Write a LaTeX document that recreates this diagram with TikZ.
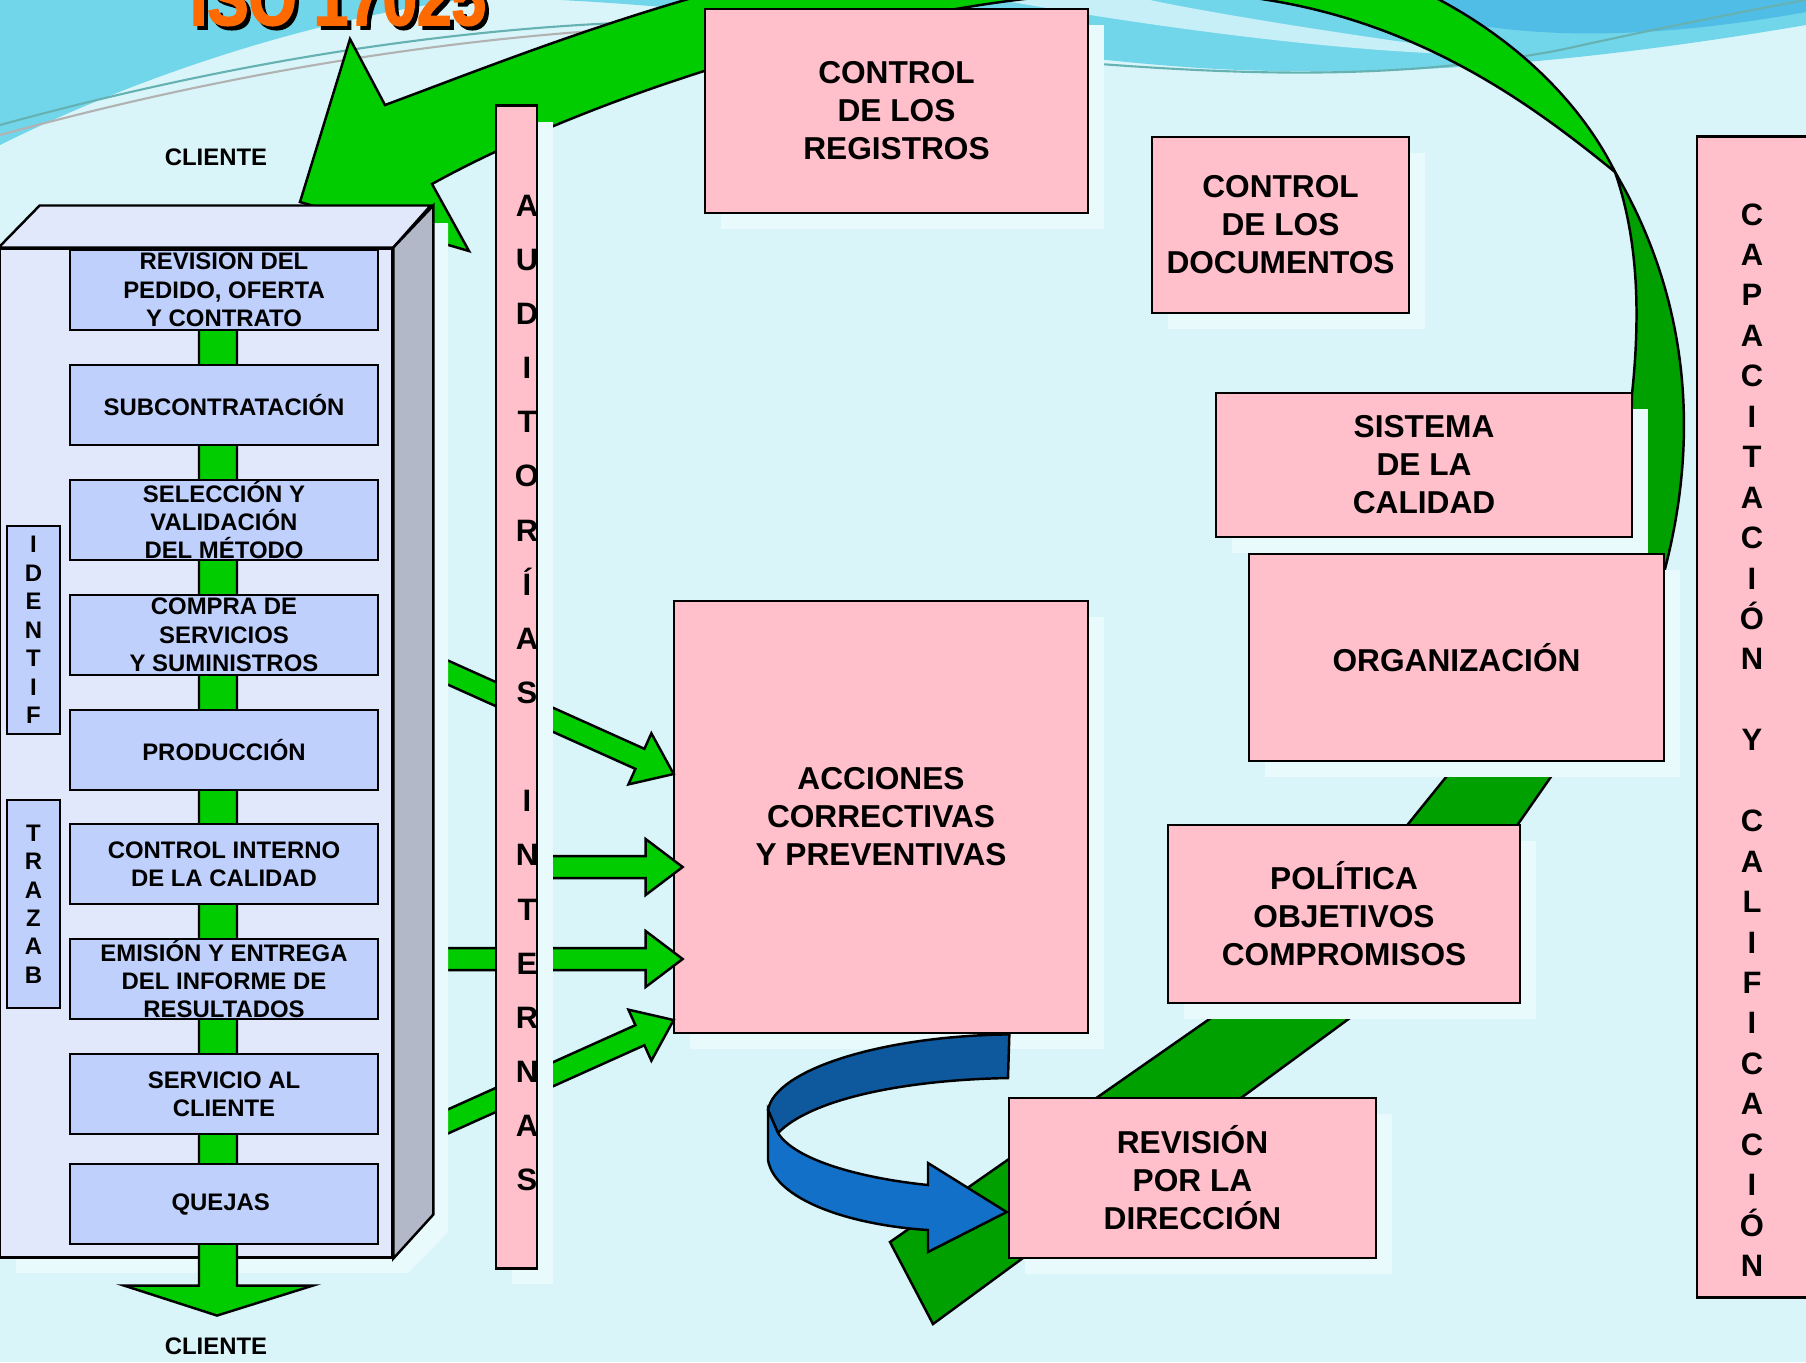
\documentclass[tikz,border=0pt]{standalone}
\usepackage{fontspec}
\setmainfont{Liberation Sans}
\newfontfamily\isofont[FakeStretch=0.8, FakeBold=2]{Liberation Sans}
\usetikzlibrary{calc, shadows}
\definecolor{skyBg}{HTML}{D9F5F9}
\definecolor{skyBand}{HTML}{72D6EA}
\definecolor{skyDeep}{HTML}{4FBDE6}
\definecolor{shadowFill}{HTML}{E8FAFC}
\definecolor{pinkFill}{HTML}{FFC0CB}
\definecolor{stepFill}{HTML}{C0D0FC}
\definecolor{panelFill}{HTML}{E2E8FC}
\definecolor{panelSide}{HTML}{B3B8C9}
\definecolor{flowGreen}{HTML}{00CC00}
\definecolor{bandGreen}{HTML}{00A000}
\definecolor{turnDark}{HTML}{0E589E}
\definecolor{turnLight}{HTML}{1270C8}
\definecolor{isoOrange}{HTML}{FF6A00}

\begin{document}
\begin{tikzpicture}[
  x=0.01cm, y=-0.01cm,
  font=\bfseries,
  edged/.style={draw=black, line width=0.7pt},
  boxshadow/.style={drop shadow={shadow xshift=0.16cm, shadow yshift=-0.16cm, fill=shadowFill, opacity=1}},
  pinkbox/.style={edged, fill=pinkFill, boxshadow, align=center, inner sep=0pt,
    font=\fontsize{9}{10.8}\selectfont\bfseries},
  stepbox/.style={edged, fill=stepFill, align=center, inner sep=0pt,
    minimum width=3.08cm, minimum height=0.80cm, font=\fontsize{6.8}{8.1}\selectfont\bfseries},
  tagbox/.style={edged, fill=stepFill, align=center, inner sep=0pt,
    minimum width=0.53cm, minimum height=2.08cm, font=\fontsize{6.8}{8.1}\selectfont\bfseries},
  letters/.style={align=center, inner sep=0pt, font=\fontsize{8.8}{#1}\selectfont\bfseries},
  clientLabel/.style={font=\fontsize{6.8}{8}\selectfont\bfseries},
  isoLabel/.style={anchor=base, font=\isofont\bfseries\fontsize{22}{22}\selectfont},
  greenflow/.style={edged, fill=flowGreen},
  greenband/.style={edged, fill=bandGreen}
]

% =========================================================
% SLIDE BACKGROUND
% =========================================================

\fill[skyBg] (0,0) rectangle (1806,1362);
\useasboundingbox (0,0) rectangle (1806,1362);

\fill[skyBand] (0,0) -- (0,145) .. controls (110,90) and (280,25) .. (460,0) -- cycle;
\fill[skyBand] (560,0) .. controls (800,12) and (1000,55) .. (1200,68)
  .. controls (1400,80) and (1600,60) .. (1806,25) -- (1806,0) -- cycle;
\fill[white!60!skyBand] (1000,0) .. controls (1200,35) and (1380,55) .. (1500,55)
  .. controls (1380,40) and (1220,15) .. (1150,0) -- cycle;
\fill[skyDeep] (1380,0) .. controls (1500,45) and (1650,40) .. (1806,12) -- (1806,0) -- cycle;

\draw[teal!60, line width=0.6pt] (0,125) .. controls (200,70) and (420,30) .. (640,22);
\draw[gray!60, line width=0.6pt] (0,135) .. controls (200,80) and (420,40) .. (640,28);
\draw[teal!60, line width=0.6pt] (1100,64) .. controls (1250,75) and (1400,80) .. (1560,50)
  .. controls (1650,30) and (1750,10) .. (1806,0);

% =========================================================
% BIG RETURN ARROW (twisted ribbon)
% =========================================================

% front face, from the arrowhead over the top
\draw[greenflow] (300,202) -- (350,39) -- (385,105)
  .. controls (560,40) and (800,-60) .. (1100,-70)
  .. controls (1400,-80) and (1560,60) .. (1615,172)
  .. controls (1520,95) and (1380,-10) .. (1160,-8)
  .. controls (950,-15) and (620,80) .. (432,184)
  -- (469,251) -- cycle;

% back face, down to the organization box
\draw[greenband] (1615,172) .. controls (1668,262) and (1712,400) .. (1662,580)
  -- (1628,580) -- (1632,394) .. controls (1642,300) and (1635,230) .. (1615,172) -- cycle;

% bands behind the management boxes
\draw[greenband] (1480,735) -- (1580,735) -- (1493,860) -- (1379,860) -- cycle;
\draw[greenband] (890,1242) -- (1251,990) -- (1388,990) -- (933,1324) -- cycle;

% =========================================================
% MANAGEMENT BOXES
% =========================================================

\node[pinkbox, minimum width=3.83cm, minimum height=2.04cm] (registros) at (896.5,111)
{CONTROL\\DE LOS\\REGISTROS};
\node[pinkbox, minimum width=2.57cm, minimum height=1.76cm] (documentos) at (1280.5,225)
{CONTROL\\DE LOS\\DOCUMENTOS};
\node[pinkbox, minimum width=4.16cm, minimum height=1.44cm] (sistema) at (1424,465)
{SISTEMA\\DE LA\\CALIDAD};
\node[pinkbox, minimum width=4.15cm, minimum height=2.07cm] (organizacion) at (1456.5,657.5)
{ORGANIZACIÓN};
\node[pinkbox, minimum width=3.52cm, minimum height=1.78cm] (politica) at (1344,914)
{POLÍTICA\\OBJETIVOS\\COMPROMISOS};
\node[pinkbox, minimum width=4.14cm, minimum height=4.32cm] (acciones) at (881,817)
{ACCIONES\\CORRECTIVAS\\Y PREVENTIVAS};

% training strip
\node[edged, fill=pinkFill, minimum width=1.2cm, minimum height=11.6cm, inner sep=0pt]
  (capStrip) at (1757,717) {};
\node[letters=11.5pt] (capText) at (1752,740)
{C\\A\\P\\A\\C\\I\\T\\A\\C\\I\\Ó\\N\\[11.5pt]Y\\[11.5pt]C\\A\\L\\I\\F\\I\\C\\A\\C\\I\\Ó\\N};

\node[pinkbox, minimum width=3.67cm, minimum height=1.60cm] (revision) at (1192.5,1178)
{REVISIÓN\\POR LA\\DIRECCIÓN};

% turn arrow: acciones -> revision
\draw[edged, fill=turnDark] ($(acciones.south east)+(-80,0)$)
  .. controls (880,1036) and (775,1070) .. (768,1110) -- (778,1133)
  .. controls (810,1100) and (900,1080) .. (1008,1078) -- cycle;
\draw[edged, fill=turnLight] (768,1110) -- (768,1160)
  .. controls (775,1200) and (850,1225) .. (928,1230) -- (928,1252)
  -- ($(revision.west)+(-1,34)$) -- (928,1163) -- (928,1185)
  .. controls (860,1178) and (795,1160) .. (778,1133) -- cycle;

% =========================================================
% AUDIT ARROWS INTO ACCIONES
% =========================================================

\foreach \dx/\dy/\ang/\len in {1/-43/-24.2/258, 10/50/0/164, 10/142/0/244, 1/203/24.2/258}{
  \begin{scope}[shift={($(acciones.west)+(\dx,\dy)$)}, rotate=\ang]
    \draw[greenflow] (0,0) -- (-37,-28) -- (-37,-11) -- (-\len,-11)
      -- (-\len,11) -- (-37,11) -- (-37,28) -- cycle;
  \end{scope}
}

\node[edged, fill=pinkFill, boxshadow, minimum width=0.41cm, minimum height=11.62cm, inner sep=0pt]
  (auditStrip) at (516.5,687) {};
\node[letters=15.4pt] (auditText) at (527,693)
{A\\U\\D\\I\\T\\O\\R\\Í\\A\\S\\[15.4pt]I\\N\\T\\E\\R\\N\\A\\S};

% =========================================================
% PROCESS PANEL
% =========================================================

\fill[shadowFill] (16,265) -- (57,223) -- (448,223) -- (448,1232) -- (408,1273) -- (16,1273) -- cycle;
\node[edged, fill=panelFill, minimum width=3.92cm, minimum height=10.08cm, inner sep=0pt]
  (panel) at (196,753) {};
\draw[edged, fill=panelFill] (panel.north west) -- ++(41,-42) -- ++(391,0) -- (panel.north east) -- cycle;
\draw[edged, fill=panelSide] (panel.north east) -- ++(40,-42) -- ++(0,1009) -- (panel.south east) -- cycle;

% flow through the steps and out to the client
\draw[greenflow] ($(panel.north)+(3,50)$) -- ($(panel.south)+(3,27)$) -- ($(panel.south)+(-72,27)$)
  -- ($(panel.south)+(21,57)$) -- ($(panel.south)+(117,27)$) -- ($(panel.south)+(41,27)$)
  -- ($(panel.north)+(41,50)$) -- cycle;

\foreach \y/\nm/\txt in {
  290/revPedido/{REVISION DEL\\PEDIDO, OFERTA\\Y CONTRATO},
  405/subcontrat/{SUBCONTRATACIÓN},
  520/seleccion/{SELECCIÓN Y\\VALIDACIÓN\\DEL MÉTODO},
  635/compra/{COMPRA DE\\SERVICIOS\\Y SUMINISTROS},
  750/produccion/{PRODUCCIÓN},
  864/controlInt/{CONTROL INTERNO\\DE LA CALIDAD},
  979/emision/{EMISIÓN Y ENTREGA\\DEL INFORME DE\\RESULTADOS},
  1094/servicio/{SERVICIO AL\\CLIENTE},
  1204/quejas/{QUEJAS}
}{
  \node[stepbox] (\nm) at (224,\y) {\txt};
}

\node[tagbox] (identif) at (33.5,630) {I\\D\\E\\N\\T\\I\\F};
\node[tagbox] (trazab) at (33.5,904) {T\\R\\A\\Z\\A\\B};

\node[clientLabel] (clienteIn) at (216,157) {CLIENTE};
\node[clientLabel] (clienteOut) at (216,1346) {CLIENTE};

% title, cut by the slide edge
\node[isoLabel, black] (isoShade) at (342,29) {ISO 17025};
\node[isoLabel, isoOrange] (iso) at (338,25) {ISO 17025};

\end{tikzpicture}
\end{document}
